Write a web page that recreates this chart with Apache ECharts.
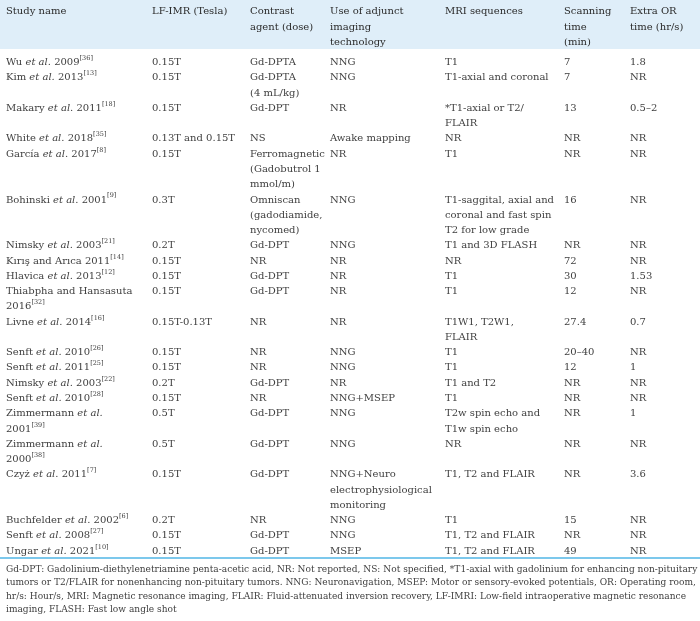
<!DOCTYPE html>
<html><head><meta charset="utf-8">
<script src="https://cdn.jsdelivr.net/npm/echarts@6/dist/echarts.min.js"></script>
<style>html,body{margin:0;padding:0;background:#fff}#c{width:700px;height:621px}</style>
</head><body><div id="c"></div>
<script>
// ---- table content ----
const headers = ["Study name", "LF-IMR (Tesla)", "Contrast\nagent (dose)", "Use of adjunct\nimaging\ntechnology", "MRI sequences", "Scanning\ntime\n(min)", "Extra OR\ntime (hr/s)"];

const studyNames = [
  "Wu {i|et al.} 2009{s|[36]}",
  "Kim {i|et al.} 2013{s|[13]}",
  "Makary {i|et al.} 2011{s|[18]}",
  "White {i|et al.} 2018{s|[35]}",
  "García {i|et al.} 2017{s|[8]}",
  "Bohinski {i|et al.} 2001{s|[9]}",
  "Nimsky {i|et al.} 2003{s|[21]}",
  "Kırış and Arıca 2011{s|[14]}",
  "Hlavica {i|et al.} 2013{s|[12]}",
  "Thiabpha and Hansasuta\n2016{s|[32]}",
  "Livne {i|et al.} 2014{s|[16]}",
  "Senft {i|et al.} 2010{s|[26]}",
  "Senft {i|et al.} 2011{s|[25]}",
  "Nimsky {i|et al.} 2003{s|[22]}",
  "Senft {i|et al.} 2010{s|[28]}",
  "Zimmermann {i|et al.}\n2001{s|[39]}",
  "Zimmermann {i|et al.}\n2000{s|[38]}",
  "Czyż {i|et al.} 2011{s|[7]}",
  "Buchfelder {i|et al.} 2002{s|[6]}",
  "Senft {i|et al.} 2008{s|[27]}",
  "Ungar {i|et al.} 2021{s|[10]}"
];
const fieldStrength = ["0.15T","0.15T","0.15T","0.13T and 0.15T","0.15T","0.3T","0.2T","0.15T","0.15T","0.15T","0.15T-0.13T","0.15T","0.15T","0.2T","0.15T","0.5T","0.5T","0.15T","0.2T","0.15T","0.15T"];
const contrastAgent = ["Gd-DPTA","Gd-DPTA\n(4 mL/kg)","Gd-DPT","NS","Ferromagnetic\n(Gadobutrol 1\nmmol/m)","Omniscan\n(gadodiamide,\nnycomed)","Gd-DPT","NR","Gd-DPT","Gd-DPT","NR","NR","NR","Gd-DPT","NR","Gd-DPT","Gd-DPT","Gd-DPT","NR","Gd-DPT","Gd-DPT"];
const adjunctTech = ["NNG","NNG","NR","Awake mapping","NR","NNG","NNG","NR","NR","NR","NR","NNG","NNG","NR","NNG+MSEP","NNG","NNG","NNG+Neuro\nelectrophysiological\nmonitoring","NNG","NNG","MSEP"];
const mriSequences = ["T1","T1-axial and coronal","*T1-axial or T2/\nFLAIR","NR","T1","T1-saggital, axial and\ncoronal and fast spin\nT2 for low grade","T1 and 3D FLASH","NR","T1","T1","T1W1, T2W1,\nFLAIR","T1","T1","T1 and T2","T1","T2w spin echo and\nT1w spin echo","NR","T1, T2 and FLAIR","T1","T1, T2 and FLAIR","T1, T2 and FLAIR"];
const scanTime = ["7","7","13","NR","NR","16","NR","72","30","12","27.4","20–40","12","NR","NR","NR","NR","NR","15","NR","49"];
const extraORTime = ["1.8","NR","0.5–2","NR","NR","NR","NR","NR","1.53","NR","0.7","NR","1","NR","NR","1","NR","3.6","NR","NR","NR"];

const footnoteLines = [
  "Gd-DPT: Gadolinium-diethylenetriamine penta-acetic acid, NR: Not reported, NS: Not specified, *T1-axial with gadolinium for enhancing non-pituitary",
  "tumors or T2/FLAIR for nonenhancing non-pituitary tumors. NNG: Neuronavigation, MSEP: Motor or sensory-evoked potentials, OR: Operating room,",
  "hr/s: Hour/s, MRI: Magnetic resonance imaging, FLAIR: Fluid-attenuated inversion recovery, LF-IMRI: Low-field intraoperative magnetic resonance",
  "imaging, FLASH: Fast low angle shot"
];

// ---- layout (not data) ----
const W = 700, H = 621;
const L = 15.27;                       // line height
const FIRST = 62.5;                    // centre of first body line
const colX = [6, 152, 250, 330, 445, 564, 630];
const FONT = 'DejaVu Serif';
const FS = 10;
const BODY = '#404040', HEAD = '#2a2a2a';

const columns = [studyNames, fieldStrength, contrastAgent, adjunctTech, mriSequences, scanTime, extraORTime];

const bodyCells = [];
let line = 0;
for (let r = 0; r < studyNames.length; r++) {
  let n = 1;
  columns.forEach((col, c) => {
    const t = col[r];
    n = Math.max(n, t.split('\n').length);
    bodyCells.push({ value: [colX[c], line], text: t });
  });
  line += n;
}
const totalLines = line;
const headerOffset = -3.33;
const headerCells = headers.map((t, c) => ({ value: [colX[c], headerOffset], text: t }));

function rich(fill) {
  return {
    i: { fontStyle: 'italic', fontSize: FS, fontFamily: FONT, fill: fill, lineHeight: L },
    s: { fontSize: 6.5, fontFamily: FONT, fill: fill, verticalAlign: 'top', lineHeight: 10 }
  };
}

function makeRender(cells, fill) {
  return function (params, api) {
    const cell = cells[params.dataIndex];
    const p = api.coord([api.value(0), api.value(1)]);
    return {
      type: 'text',
      x: p[0], y: p[1] - L / 2,
      style: {
        text: cell.text,
        fontFamily: FONT, fontSize: FS,
        fill: fill,
        lineHeight: L,
        align: 'left', verticalAlign: 'top',
        rich: rich(fill)
      }
    };
  };
}

const chart = echarts.init(document.getElementById('c'), null, { renderer: 'canvas' });
chart.setOption({
  animation: false,
  backgroundColor: '#ffffff',
  grid: { left: 0, top: FIRST, width: W, height: (totalLines - 1) * L },
  xAxis: { type: 'value', min: 0, max: W, show: false },
  yAxis: { type: 'value', min: 0, max: totalLines - 1, inverse: true, show: false },
  graphic: [
    { type: 'rect', z: 0, shape: { x: 0, y: 0, width: W, height: 49 }, style: { fill: '#dfeef9' } },
    { type: 'rect', z: 0, shape: { x: 0, y: 557, width: W, height: 2 }, style: { fill: '#7cc8ec' } },
    { type: 'text', z: 1, x: 6, y: 563,
      style: { text: footnoteLines.join('\n'), fontFamily: FONT, fontSize: 9.05, lineHeight: 13.4, fill: BODY } }
  ],
  series: [
    { type: 'custom', clip: false, data: bodyCells.map(c => c.value), renderItem: makeRender(bodyCells, BODY) },
    { type: 'custom', clip: false, data: headerCells.map(c => c.value), renderItem: makeRender(headerCells, HEAD) }
  ]
});
</script></body></html>
